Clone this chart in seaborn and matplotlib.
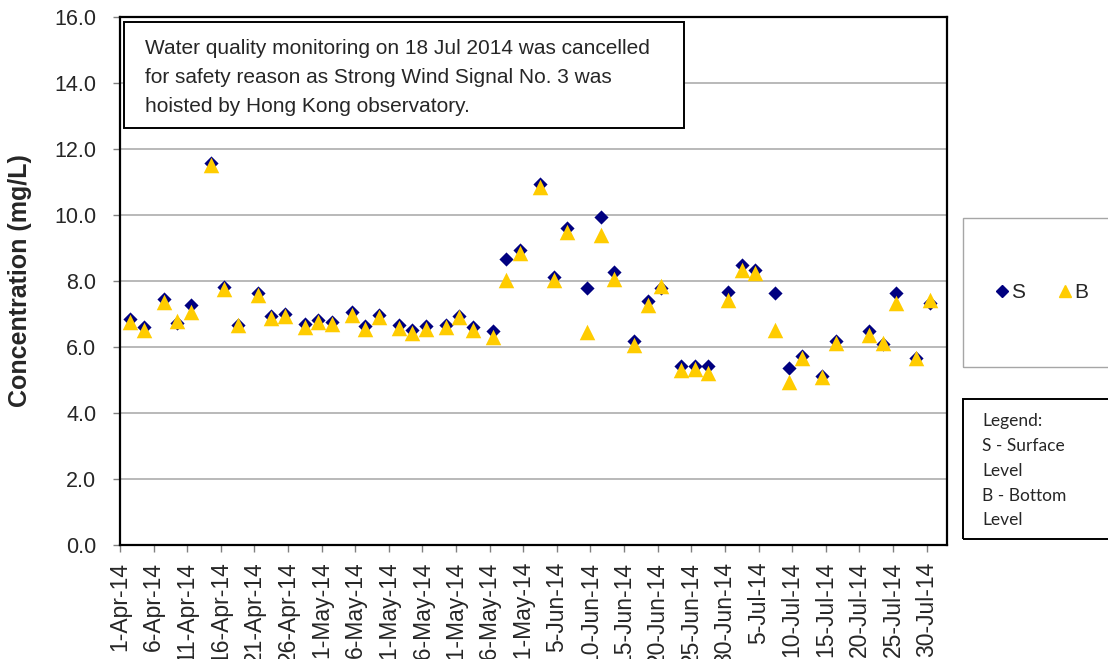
import pandas as pd
import numpy as np
import matplotlib
matplotlib.use('Agg')
import matplotlib.pyplot as plt
import matplotlib.dates as mdates
from matplotlib.patches import Rectangle
from matplotlib.lines import Line2D
import seaborn as sns

# Sampling dates (Mon/Wed/Fri; 18 Jul cancelled)
dates = ['2014-04-02', '2014-04-04', '2014-04-07', '2014-04-09', '2014-04-11',
         '2014-04-14', '2014-04-16', '2014-04-18', '2014-04-21', '2014-04-23',
         '2014-04-25', '2014-04-28', '2014-04-30', '2014-05-02', '2014-05-05',
         '2014-05-07', '2014-05-09', '2014-05-12', '2014-05-14', '2014-05-16',
         '2014-05-19', '2014-05-21', '2014-05-23', '2014-05-26', '2014-05-28',
         '2014-05-30', '2014-06-02', '2014-06-04', '2014-06-06', '2014-06-09',
         '2014-06-11', '2014-06-13', '2014-06-16', '2014-06-18', '2014-06-20',
         '2014-06-23', '2014-06-25', '2014-06-27', '2014-06-30', '2014-07-02',
         '2014-07-04', '2014-07-07', '2014-07-09', '2014-07-11', '2014-07-14',
         '2014-07-16', '2014-07-21', '2014-07-23', '2014-07-25', '2014-07-28',
         '2014-07-30']

# Surface level (S)
surface = [6.85, 6.62, 7.45, 6.72, 7.28, 11.58, 7.82, 6.68, 7.65, 6.95,
           7.00, 6.70, 6.83, 6.76, 7.05, 6.64, 6.96, 6.68, 6.53, 6.63,
           6.68, 6.95, 6.60, 6.50, 8.68, 8.95, 10.95, 8.12, 9.62, 7.80,
           9.95, 8.28, 6.18, 7.40, 7.78, 5.42, 5.42, 5.42, 7.66, 8.50,
           8.32, 7.65, 5.35, 5.74, 5.13, 6.19, 6.50, 6.10, 7.65, 5.68,
           7.34]

# Bottom level (B)
bottom = [6.75, 6.52, 7.37, 6.78, 7.05, 11.52, 7.75, 6.68, 7.58, 6.87,
          6.93, 6.62, 6.76, 6.70, 6.96, 6.56, 6.90, 6.58, 6.43, 6.56,
          6.61, 6.90, 6.52, 6.30, 8.03, 8.86, 10.86, 8.03, 9.50, 6.45,
          9.40, 8.05, 6.06, 7.27, 7.85, 5.30, 5.33, 5.22, 7.42, 8.33,
          8.23, 6.52, 4.95, 5.66, 5.08, 6.13, 6.36, 6.13, 7.32, 5.66,
          7.42]

note = ("Water quality monitoring on 18 Jul 2014 was cancelled\n"
        "for safety reason as Strong Wind Signal No. 3 was\n"
        "hoisted by Hong Kong observatory.")
legend_note = "Legend:\nS - Surface\nLevel\nB - Bottom\nLevel"

navy = '#000080'
gold = '#FFCC00'

sns.set_style('white')
plt.rcParams['font.family'] = ['Liberation Sans', 'DejaVu Sans']

# points sit in the middle of each day, like the Excel date axis
when = pd.to_datetime(dates) + pd.Timedelta(hours=12)
df_s = pd.DataFrame({'date': when, 'value': surface})
df_b = pd.DataFrame({'date': when, 'value': bottom})

W, H = 1108, 659
fig = plt.figure(figsize=(W / 100, H / 100), dpi=100)
ax = fig.add_axes([120 / W, 1 - 545 / H, (946.7 - 120) / W, (545 - 17) / H])

sns.scatterplot(data=df_s, x='date', y='value', marker='D', s=52, color=navy,
                linewidth=0, ax=ax, zorder=3)
sns.scatterplot(data=df_b, x='date', y='value', marker='^', s=125, color=gold,
                linewidth=0, ax=ax, zorder=4)

ax.set_ylim(0, 16)
ax.set_yticks(np.arange(0, 16.1, 2))
ax.set_yticklabels([f"{v:.1f}" for v in np.arange(0, 16.1, 2)], fontsize=15.5)
ax.set_xlim(mdates.date2num(pd.Timestamp('2014-04-01')),
            mdates.date2num(pd.Timestamp('2014-08-02')))
ticks = pd.date_range('2014-04-01', '2014-07-30', freq='5D')
ax.set_xticks(mdates.date2num(ticks))
ax.set_xticklabels([f"{d.day}-{d:%b-%y}" for d in ticks], rotation=90, fontsize=16.5)
ax.tick_params(axis='both', direction='out', length=5, width=1, color='#808080',
               bottom=True, left=True)
ax.tick_params(axis='y', pad=12)
ax.tick_params(axis='x', pad=7)
ax.set_xlabel('')
ax.set_ylabel('Concentration (mg/L)', fontsize=18, fontweight='bold')
ax.yaxis.set_label_coords(-0.106, 0.5)

ax.yaxis.grid(True, color='#A6A6A6', lw=1.1)
ax.xaxis.grid(False)
ax.set_axisbelow(True)
for sp in ax.spines.values():
    sp.set_color('black')
    sp.set_linewidth(1.6)

# note box
fig.patches.append(Rectangle((124 / W, 1 - 128 / H), 560 / W, 106 / H,
                             transform=fig.transFigure, fill=True, facecolor='white',
                             edgecolor='black', lw=1.4, zorder=5))
fig.text(145 / W, 1 - 39 / H, note, fontsize=15, va='top', ha='left',
         linespacing=1.68, zorder=6)

# series legend box
fig.patches.append(Rectangle((963 / W, 1 - 367 / H), 160 / W, 149 / H,
                             transform=fig.transFigure, fill=False,
                             edgecolor='#A6A6A6', lw=1.0))
handles = [Line2D([], [], marker='D', color=navy, ls='', markersize=6),
           Line2D([], [], marker='^', color=gold, ls='', markersize=8)]
fig.legend(handles, ['S', 'B'], loc='center', bbox_to_anchor=(1042 / W, 1 - 293 / H),
           ncol=2, frameon=False, handlelength=0.6, handletextpad=0.15,
           columnspacing=1.6, fontsize=15)

# explanation box
fig.patches.append(Rectangle((963 / W, 1 - 539 / H), 160 / W, 140 / H,
                             transform=fig.transFigure, fill=False,
                             edgecolor='black', lw=1.4))
fig.text(982 / W, 1 - 413 / H, legend_note, fontsize=12.5, va='top', ha='left',
         family=['Lato', 'DejaVu Sans'], linespacing=1.68)

fig.savefig('out.png', dpi=100)
